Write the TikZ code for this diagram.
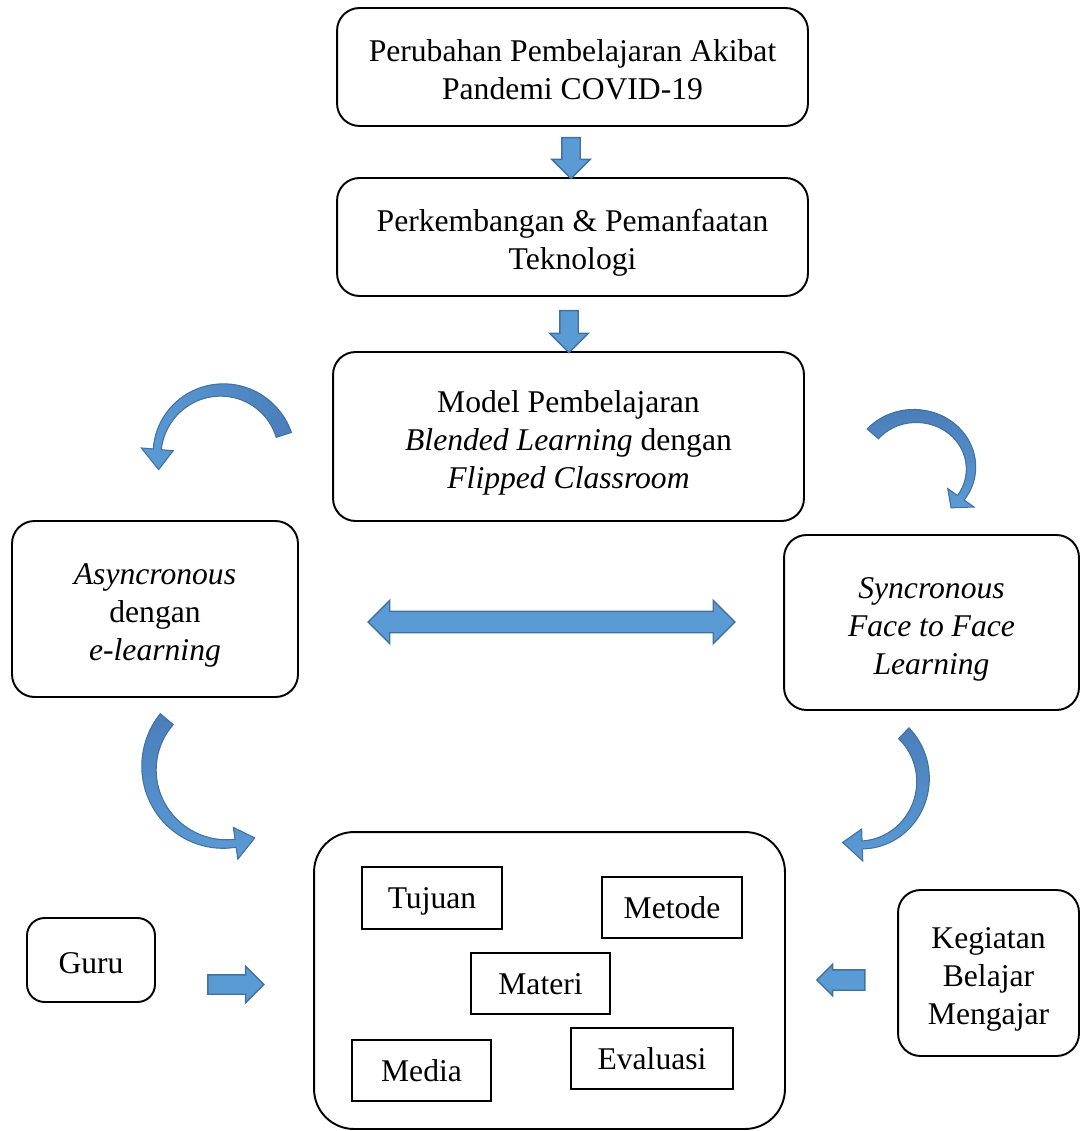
\documentclass[tikz,border=0pt]{standalone}
\usepackage{fontspec}
\setmainfont{Liberation Serif}
\usetikzlibrary{shapes.arrows, positioning}
\definecolor{ArrowBlue}{HTML}{5B9BD5}
\definecolor{ArrowDark}{HTML}{4A7EBB}
\definecolor{ArrowLine}{HTML}{41719C}

% strut for the first line of a box text
\newcommand{\tstrut}{\rule{0pt}{0.87em}}

% curved block arrow: [options] cx cy rx ry tail-angle head-angle tip-angle tail-width
\newcommand{\curvedarrow}[9][]{%
  \shadedraw[bentarrow, #1]
    plot[domain=0:1, samples=40, variable=\s]
      ({#2+(#4+(#9+(8-(#9))*\s)/2)*cos(#6+((#7)-(#6))*\s)},
       {#3-(#5+(#9+(8-(#9))*\s)/2)*sin(#6+((#7)-(#6))*\s)})
    -- ({#2+(#4+16)*cos(#7)}, {#3-(#5+16)*sin(#7)})
    -- ({#2+#4*cos(#8)}, {#3-#5*sin(#8)})
    -- ({#2+(#4-16)*cos(#7)}, {#3-(#5-16)*sin(#7)})
    -- plot[domain=0:1, samples=40, variable=\s]
      ({#2+(#4-(8+((#9)-8)*\s)/2)*cos(#7+((#6)-(#7))*\s)},
       {#3-(#5-(8+((#9)-8)*\s)/2)*sin(#7+((#6)-(#7))*\s)})
    -- cycle;}

\begin{document}
\begin{tikzpicture}[x=0.02cm, y=-0.02cm,
    font=\fontsize{18}{21.5}\selectfont,
    box/.style={draw, line width=1.1pt, rounded corners=0.45cm, align=center, inner sep=0pt,
      text depth=0pt},
    item/.style={draw, line width=1.1pt, inner sep=0pt,
      execute at begin node={\rule[-0.22em]{0pt}{1.11em}}},
    blockarrow/.style={single arrow, fill=ArrowBlue, draw=ArrowLine, line width=0.8pt,
      inner xsep=0pt, minimum width=0pt},
    bentarrow/.style={draw=ArrowLine, line width=0.6pt, top color=ArrowDark, bottom color=ArrowBlue}]
  \useasboundingbox (0,0) rectangle (1081,1131);

  % Top chain
  \node[box, minimum width=9.42cm, minimum height=2.36cm] (pandemi) at (572.5,67)
    {\tstrut Perubahan Pembelajaran Akibat\\Pandemi COVID-19};
  \node[box, minimum width=9.42cm, minimum height=2.36cm] (teknologi) at (572.5,237)
    {\tstrut Perkembangan \& Pemanfaatan\\Teknologi};
  \node[box, minimum width=9.42cm, minimum height=3.38cm] (model) at (568.5,436.5)
    {\tstrut Model Pembelajaran\\\textit{Blended Learning} dengan\\\textit{Flipped Classroom}};

  \node[blockarrow, rotate=-90, minimum height=0.82cm, inner ysep=0.17cm,
    single arrow head extend=0.2cm] (turun1) at (571,153.5) {};
  \node[blockarrow, rotate=-90, minimum height=0.84cm, inner ysep=0.17cm,
    single arrow head extend=0.2cm] (turun2) at (569,327) {};

  % Asyncronous / Syncronous
  \node[box, minimum width=5.72cm, minimum height=3.52cm] (async) at (155,609)
    {\tstrut\textit{Asyncronous}\\dengan\\\textit{e-learning}};
  \node[box, minimum width=5.9cm, minimum height=3.5cm] (sync) at (931.5,622.5)
    {\tstrut\textit{Syncronous}\\\textit{Face to Face}\\\textit{Learning}};
  \node[double arrow, fill=ArrowBlue, draw=ArrowLine, line width=0.8pt, inner xsep=0pt,
    inner ysep=0.2cm, minimum width=0pt, minimum height=7.34cm,
    double arrow head extend=0.22cm] (dua) at (551.5,622) {};

  % Curved arrows
  \curvedarrow[left color=ArrowBlue, right color=ArrowDark]{222}{455}{65}{65}{18}{175}{193}{16}
  \curvedarrow{915}{468}{56}{52}{139}{-35}{-50}{15}
  \curvedarrow{225}{768}{76}{76}{140}{278}{293}{17}
  \curvedarrow{860}{780}{63}{65}{46}{-88}{-106}{15}

  % Components
  \node[box, rounded corners=0.8cm, minimum width=9.42cm, minimum height=5.94cm] (komponen) at (549.5,980.5) {};
  \node[item, minimum width=2.8cm, minimum height=1.24cm] (tujuan) at (432,898) {Tujuan};
  \node[item, minimum width=2.8cm, minimum height=1.22cm] (metode) at (672,907.5) {Metode};
  \node[item, minimum width=2.78cm, minimum height=1.22cm] (materi) at (540.5,983.5) {Materi};
  \node[item, minimum width=2.78cm, minimum height=1.22cm] (media) at (421.5,1070.5) {Media};
  \node[item, minimum width=3.24cm, minimum height=1.22cm] (evaluasi) at (652,1058.5) {Evaluasi};

  % Guru / KBM
  \node[box, rounded corners=0.35cm, minimum width=2.56cm, minimum height=1.68cm] (guru) at (91,960) {\tstrut Guru};
  \node[box, minimum width=3.62cm, minimum height=3.32cm] (kbm) at (988.5,973)
    {\tstrut Kegiatan\\Belajar\\Mengajar};
  \node[blockarrow, minimum height=1.12cm, inner ysep=0.18cm,
    single arrow head extend=0.17cm] (kanan) at (231,984.5) {};
  \node[blockarrow, rotate=180, minimum height=0.96cm, inner ysep=0.19cm,
    single arrow head extend=0.11cm] (kiri) at (846,980) {};
\end{tikzpicture}
\end{document}
